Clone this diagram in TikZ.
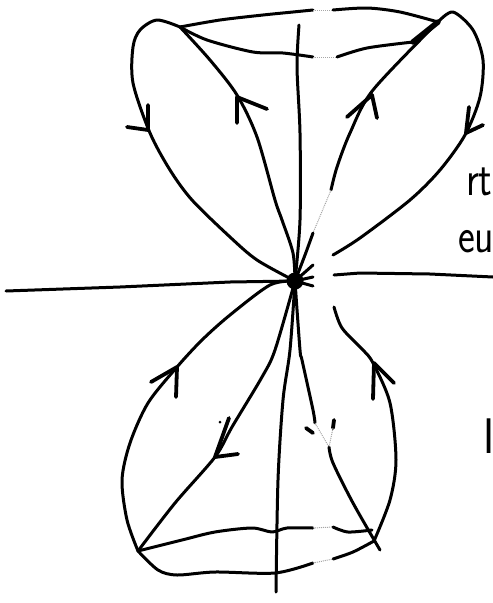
\documentclass[tikz,border=0pt]{standalone}
\usepackage{tikz}
\usetikzlibrary{calc, positioning}
\tikzset{
  pen/.style={line width=3pt, line cap=round, line join=round},
  barb/.style={line width=3.8pt, line cap=round, line join=round},
  faint/.style={line width=1pt, gray!70, densely dotted},
  scrawl/.style={font=\fontsize{50}{50}\selectfont\sffamily, inner sep=0pt, outer sep=0pt, anchor=base west}
}
\begin{document}
\begin{tikzpicture}[x=1pt, y=-1pt]
  \useasboundingbox (0,0) rectangle (493,603);
  \coordinate (O) at (295,281);
  \coordinate (TL) at (180,27);
  \coordinate (TR) at (438,22);
  \coordinate (BL) at (138,551);
  \coordinate (BR) at (374,541);
  % axes
  \fill (O) circle (8.5);
  \draw[pen] (6,291) -- (120,287) -- (230,282) -- (O);
  \draw[pen] (334,275) -- (360,273) -- (430,274) -- (493,277);
  \draw[pen] plot[smooth] coordinates {(299,25) (297,67) (300,133) (300,220) (O)};
  \draw[pen] plot[smooth] coordinates {(O) (290,350) (283,400) (278,480) (276,592)};
  \draw[pen] (O) -- (313,265);
  \draw[pen] (O) -- (313,277);
  \draw[pen] (O) -- (313,286);
  % rim at the top
  \draw[pen] plot[smooth] coordinates {(TL) (220,20) (263,15) (293,12) (313,10)};
  \draw[pen] plot[smooth] coordinates {(333,10) (367,8) (400,12) (TR)};
  \draw[faint] (313,10) -- (333,10);
  \draw[pen] plot[smooth] coordinates {(TL) (207,40) (253,52) (283,53) (313,57)};
  \draw[pen] plot[smooth] coordinates {(337,57) (367,48) (413,42)};
  \draw[faint] (313,57) -- (337,57);
  % rim at the bottom
  \draw[pen] plot[smooth] coordinates {(BL) (182,540) (215,532) (252,528) (272,532) (287,528) (313,528)};
  \draw[pen] plot[smooth] coordinates {(333,527) (348,532) (372,530)};
  \draw[faint] (313,528) -- (333,527);
  \draw[pen] plot[smooth] coordinates {(BL) (158,570) (177,575) (215,572) (275,573) (313,563)};
  \draw[pen] plot[smooth] coordinates {(333,559) (353,552) (BR)};
  \draw[faint] (313,563) -- (333,559);
  % upper left lobe
  \draw[pen] plot[smooth] coordinates {(TL) (157,20) (140,30) (133,47) (133,83) (150,133) (170,170) (192,200) (230,237) (257,260) (O)};
  \draw[pen] plot[smooth] coordinates {(TL) (210,60) (237,95) (257,137) (275,200) (282,220) (293,253) (O)};
  \draw[barb] (148,105) -- (148,130) -- (127,127);
  \draw[barb] (237,123) -- (237,97) -- (267,109);
  % upper right lobe
  \draw[line width=5.5pt, line cap=round] (413,42) -- (TR);
  \draw[pen] plot[smooth] coordinates {(TR) (453,12) (473,30) (483,60) (480,97) (465,135) (440,170) (410,200) (360,238) (333,255)};
  \draw[pen] plot[smooth] coordinates {(TR) (373,90) (350,133) (337,167) (331,190)};
  \draw[faint] (331,190) -- (313,233);
  \draw[pen] plot[smooth] coordinates {(O) (305,255) (313,233)};
  \draw[barb] (469,107) -- (466,133) -- (483,125);
  \draw[barb] (347,117) -- (372,95) -- (377,118);
  % lower left lobe
  \draw[pen] plot[smooth] coordinates {(O) (270,285) (230,315) (202,340) (177,367) (148,403) (130,443) (122,480) (127,520) (BL)};
  \draw[pen] plot[smooth] coordinates {(O) (275,350) (262,377) (232,427) (215,457) (175,503) (BL)};
  \draw[barb] (151,382) -- (177,367) -- (176,397);
  \draw[barb] (229,418) -- (215,457) -- (238,454);
  \fill (220,422) circle (1.5);
  % lower right lobe
  \draw[pen] plot[smooth] coordinates {(O) (300,350) (302,360) (313,410) (315,423)};
  \draw[faint] (315,423) -- (329,447);
  \draw[pen] plot[smooth] coordinates {(329,447) (333,463) (353,503) (380,550)};
  \draw[pen] plot[smooth] coordinates {(334,307) (342,328) (363,350) (373,363) (390,403) (396,460) (390,500) (BR)};
  \draw[barb] (306,428) -- (313,433);
  \draw[barb] (334,420) -- (333,428);
  \draw[faint] (333,428) -- (329,447);
  \draw[barb] (373,399) -- (374,363) -- (394,383);
  % writing at the edge
  \node[scrawl] (rt) at (466,195) {\scalebox{0.8}[1]{rt}};
  \node[scrawl] (eu) at (458,252) {\scalebox{0.8}[1]{eu}};
  \node[scrawl] (el) at (483,453) {l};
\end{tikzpicture}
\end{document}
